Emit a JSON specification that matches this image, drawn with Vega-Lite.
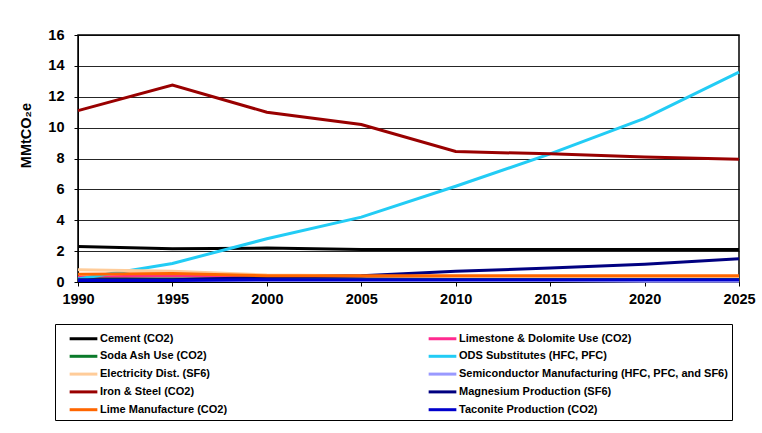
{
  "$schema": "https://vega.github.io/schema/vega-lite/v6.json",
  "autosize": "none",
  "width": 661,
  "height": 247,
  "padding": {"left": 78, "top": 35, "right": 23, "bottom": 151},
  "background": "#ffffff",
  "config": {
    "font": "Liberation Sans",
    "view": {"stroke": "#000000", "strokeWidth": 1.5},
    "axis": {"labelFont": "Liberation Sans", "labelFontWeight": "bold", "labelFontSize": 14.5, "labelColor": "#000000", "titleColor": "#000000", "domainColor": "#000000", "tickColor": "#000000"}
  },
  "data": {
    "values": [
      {"year": 1990, "source": "Cement (CO2)", "value": 2.3},
      {"year": 1995, "source": "Cement (CO2)", "value": 2.15},
      {"year": 2000, "source": "Cement (CO2)", "value": 2.2},
      {"year": 2005, "source": "Cement (CO2)", "value": 2.1},
      {"year": 2010, "source": "Cement (CO2)", "value": 2.1},
      {"year": 2015, "source": "Cement (CO2)", "value": 2.1},
      {"year": 2020, "source": "Cement (CO2)", "value": 2.1},
      {"year": 2025, "source": "Cement (CO2)", "value": 2.1},
      {"year": 1990, "source": "Limestone & Dolomite Use (CO2)", "value": 0.3},
      {"year": 1995, "source": "Limestone & Dolomite Use (CO2)", "value": 0.4},
      {"year": 2000, "source": "Limestone & Dolomite Use (CO2)", "value": 0.3},
      {"year": 2005, "source": "Limestone & Dolomite Use (CO2)", "value": 0.3},
      {"year": 2010, "source": "Limestone & Dolomite Use (CO2)", "value": 0.3},
      {"year": 2015, "source": "Limestone & Dolomite Use (CO2)", "value": 0.3},
      {"year": 2020, "source": "Limestone & Dolomite Use (CO2)", "value": 0.3},
      {"year": 2025, "source": "Limestone & Dolomite Use (CO2)", "value": 0.3},
      {"year": 1990, "source": "Soda Ash Use (CO2)", "value": 0.2},
      {"year": 1995, "source": "Soda Ash Use (CO2)", "value": 0.2},
      {"year": 2000, "source": "Soda Ash Use (CO2)", "value": 0.2},
      {"year": 2005, "source": "Soda Ash Use (CO2)", "value": 0.2},
      {"year": 2010, "source": "Soda Ash Use (CO2)", "value": 0.2},
      {"year": 2015, "source": "Soda Ash Use (CO2)", "value": 0.2},
      {"year": 2020, "source": "Soda Ash Use (CO2)", "value": 0.2},
      {"year": 2025, "source": "Soda Ash Use (CO2)", "value": 0.2},
      {"year": 1990, "source": "ODS Substitutes (HFC, PFC)", "value": 0.2},
      {"year": 1995, "source": "ODS Substitutes (HFC, PFC)", "value": 1.2},
      {"year": 2000, "source": "ODS Substitutes (HFC, PFC)", "value": 2.8},
      {"year": 2005, "source": "ODS Substitutes (HFC, PFC)", "value": 4.2},
      {"year": 2010, "source": "ODS Substitutes (HFC, PFC)", "value": 6.2},
      {"year": 2015, "source": "ODS Substitutes (HFC, PFC)", "value": 8.3},
      {"year": 2020, "source": "ODS Substitutes (HFC, PFC)", "value": 10.6},
      {"year": 2025, "source": "ODS Substitutes (HFC, PFC)", "value": 13.6},
      {"year": 1990, "source": "Electricity Dist. (SF6)", "value": 0.8},
      {"year": 1995, "source": "Electricity Dist. (SF6)", "value": 0.7},
      {"year": 2000, "source": "Electricity Dist. (SF6)", "value": 0.45},
      {"year": 2005, "source": "Electricity Dist. (SF6)", "value": 0.4},
      {"year": 2010, "source": "Electricity Dist. (SF6)", "value": 0.35},
      {"year": 2015, "source": "Electricity Dist. (SF6)", "value": 0.35},
      {"year": 2020, "source": "Electricity Dist. (SF6)", "value": 0.35},
      {"year": 2025, "source": "Electricity Dist. (SF6)", "value": 0.35},
      {"year": 1990, "source": "Semiconductor Manufacturing (HFC, PFC, and SF6)", "value": 0.1},
      {"year": 1995, "source": "Semiconductor Manufacturing (HFC, PFC, and SF6)", "value": 0.1},
      {"year": 2000, "source": "Semiconductor Manufacturing (HFC, PFC, and SF6)", "value": 0.1},
      {"year": 2005, "source": "Semiconductor Manufacturing (HFC, PFC, and SF6)", "value": 0.1},
      {"year": 2010, "source": "Semiconductor Manufacturing (HFC, PFC, and SF6)", "value": 0.1},
      {"year": 2015, "source": "Semiconductor Manufacturing (HFC, PFC, and SF6)", "value": 0.1},
      {"year": 2020, "source": "Semiconductor Manufacturing (HFC, PFC, and SF6)", "value": 0.05},
      {"year": 2025, "source": "Semiconductor Manufacturing (HFC, PFC, and SF6)", "value": 0.05},
      {"year": 1990, "source": "Iron & Steel (CO2)", "value": 11.1},
      {"year": 1995, "source": "Iron & Steel (CO2)", "value": 12.75},
      {"year": 2000, "source": "Iron & Steel (CO2)", "value": 11.0},
      {"year": 2005, "source": "Iron & Steel (CO2)", "value": 10.2},
      {"year": 2010, "source": "Iron & Steel (CO2)", "value": 8.45},
      {"year": 2015, "source": "Iron & Steel (CO2)", "value": 8.3},
      {"year": 2020, "source": "Iron & Steel (CO2)", "value": 8.1},
      {"year": 2025, "source": "Iron & Steel (CO2)", "value": 7.95},
      {"year": 1990, "source": "Magnesium Production (SF6)", "value": 0.15},
      {"year": 1995, "source": "Magnesium Production (SF6)", "value": 0.15},
      {"year": 2000, "source": "Magnesium Production (SF6)", "value": 0.3},
      {"year": 2005, "source": "Magnesium Production (SF6)", "value": 0.4},
      {"year": 2010, "source": "Magnesium Production (SF6)", "value": 0.7},
      {"year": 2015, "source": "Magnesium Production (SF6)", "value": 0.9},
      {"year": 2020, "source": "Magnesium Production (SF6)", "value": 1.15},
      {"year": 2025, "source": "Magnesium Production (SF6)", "value": 1.5},
      {"year": 1990, "source": "Lime Manufacture (CO2)", "value": 0.5},
      {"year": 1995, "source": "Lime Manufacture (CO2)", "value": 0.55},
      {"year": 2000, "source": "Lime Manufacture (CO2)", "value": 0.4},
      {"year": 2005, "source": "Lime Manufacture (CO2)", "value": 0.4},
      {"year": 2010, "source": "Lime Manufacture (CO2)", "value": 0.4},
      {"year": 2015, "source": "Lime Manufacture (CO2)", "value": 0.4},
      {"year": 2020, "source": "Lime Manufacture (CO2)", "value": 0.4},
      {"year": 2025, "source": "Lime Manufacture (CO2)", "value": 0.4},
      {"year": 1990, "source": "Taconite Production (CO2)", "value": 0.1},
      {"year": 1995, "source": "Taconite Production (CO2)", "value": 0.1},
      {"year": 2000, "source": "Taconite Production (CO2)", "value": 0.15},
      {"year": 2005, "source": "Taconite Production (CO2)", "value": 0.15},
      {"year": 2010, "source": "Taconite Production (CO2)", "value": 0.15},
      {"year": 2015, "source": "Taconite Production (CO2)", "value": 0.15},
      {"year": 2020, "source": "Taconite Production (CO2)", "value": 0.15},
      {"year": 2025, "source": "Taconite Production (CO2)", "value": 0.15}
    ]
  },
  "mark": {"type": "line", "strokeWidth": 3},
  "encoding": {
    "x": {
      "field": "year", "type": "quantitative",
      "scale": {"domain": [1990, 2025], "nice": false, "zero": false},
      "axis": {"values": [1990, 1995, 2000, 2005, 2010, 2015, 2020, 2025], "format": "d", "grid": false, "title": null, "tickSize": 4, "labelPadding": 6, "domain": true, "labelFlush": false}
    },
    "y": {
      "field": "value", "type": "quantitative",
      "scale": {"domain": [0, 16], "nice": false},
      "axis": {"values": [0, 2, 4, 6, 8, 10, 12, 14, 16], "grid": true, "gridColor": "#000000", "gridWidth": 1, "gridOpacity": 0.85, "title": "MMtCO₂e", "titleFont": "Liberation Sans", "titleFontSize": 14.5, "titleFontWeight": "bold", "titleX": -45, "titleY": 100, "titleAngle": -90, "titleAlign": "center", "titleBaseline": "bottom", "tickSize": 4, "labelPadding": 10}
    },
    "color": {
      "field": "source", "type": "nominal",
      "scale": {
        "domain": ["Cement (CO2)", "Soda Ash Use (CO2)", "Electricity Dist. (SF6)", "Iron & Steel (CO2)", "Lime Manufacture (CO2)", "Limestone & Dolomite Use (CO2)", "ODS Substitutes (HFC, PFC)", "Semiconductor Manufacturing (HFC, PFC, and SF6)", "Magnesium Production (SF6)", "Taconite Production (CO2)"],
        "range": ["#000000", "#0a7a2a", "#ffcc99", "#990000", "#ff6600", "#ff2a8f", "#22ccf5", "#9999ff", "#000080", "#0000cc"]
      },
      "legend": {
        "orient": "none", "legendX": -23, "legendY": 289,
        "columns": 2, "columnPadding": 194, "rowPadding": 0.8,
        "title": " ", "titleOrient": "left", "titleFontSize": 6, "titlePadding": 14,
        "padding": 4,
        "strokeColor": "#000000", "fillColor": "#ffffff",
        "symbolType": "M-1.6,0H1.6", "symbolSize": 300, "symbolStrokeWidth": 3,
        "labelExpr": "datum.label + '\u00a0'",
        "labelFont": "Liberation Sans", "labelFontWeight": "bold", "labelFontSize": 11, "labelColor": "#000000", "labelOffset": 6, "labelLimit": 400
      }
    }
  }
}
